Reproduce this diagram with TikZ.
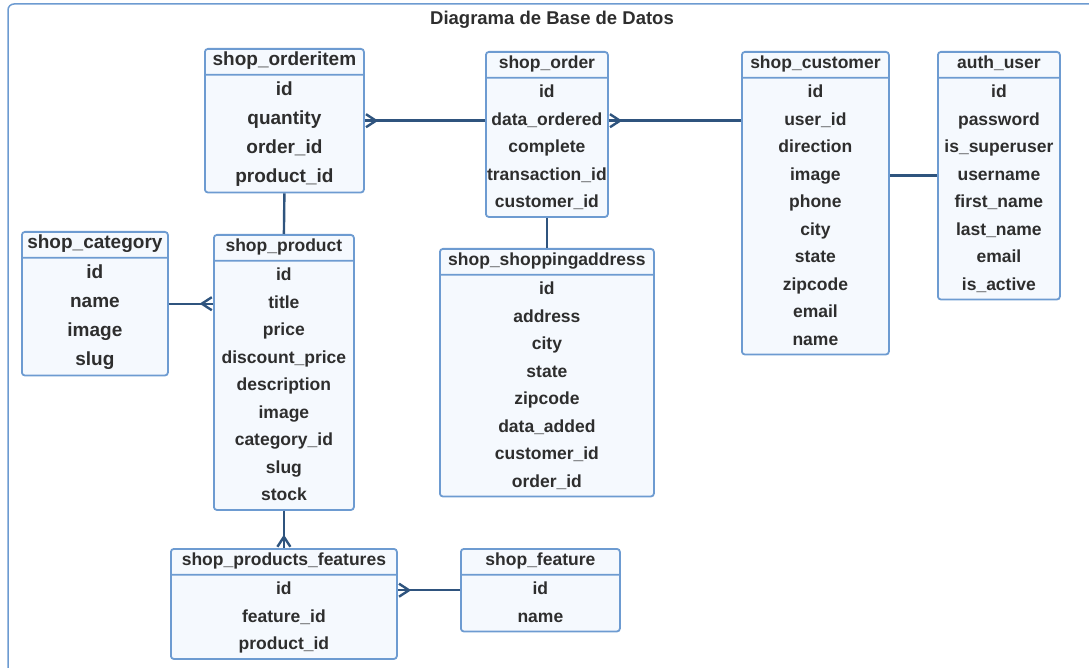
\documentclass[tikz,border=0pt]{standalone}
\usepackage{fontspec}
\setmainfont{Liberation Sans}
\usetikzlibrary{arrows.meta,positioning,shapes.multipart}
\definecolor{entline}{HTML}{6D9BD1}
\definecolor{entfill}{HTML}{F5F9FE}
\definecolor{relline}{HTML}{2F547E}
\definecolor{enttext}{HTML}{2E2E2E}
\newcommand{\hstrut}{\rule[-8.25pt]{0pt}{24pt}}
\newcommand{\ent}[2]{\hstrut#1\nodepart{two}\strut#2\strut}
\tikzset{entity/.style={rectangle split, rectangle split parts=2,
           draw=entline, fill=entfill, line width=1.8pt, rounded corners=3pt,
           anchor=north west, inner xsep=0pt, inner ysep=0pt, align=center,
           text=enttext, font=\fontsize{17.5}{27.5}\selectfont\bfseries},
         loose/.style={font=\fontsize{19}{29}\selectfont\bfseries},
         rel/.style={draw=relline, line width=2.4pt},
         crow/.style={rel, -{Straight Barb[reversed,length=10pt,width=13pt]},
           postaction={draw=relline, line width=2.4pt, -}}}

\begin{document}
\begin{tikzpicture}[x=1pt,y=-1pt]
  \useasboundingbox (0,0) rectangle (1089,668);
  \draw[entline, line width=1.5pt, rounded corners=6pt] (8,700) -- (8,4) -- (1120,4);
  \node[text=enttext, font=\fontsize{18.5}{22}\selectfont\bfseries] (title) at (552,20)
    {Diagrama de Base de Datos};

  \node[entity, loose, text width=159pt] (orderitem) at (204,48)
    {\ent{shop\_orderitem}{id\\ quantity\\ order\_id\\ product\_id}};
  \node[entity, text width=122pt] (order) at (485,51)
    {\ent{shop\_order}{id\\ data\_ordered\\ complete\\ transaction\_id\\ customer\_id}};
  \node[entity, text width=147pt] (customer) at (741,51)
    {\ent{shop\_customer}{id\\ user\_id\\ direction\\ image\\ phone\\ city\\ state\\ zipcode\\ email\\ name}};
  \node[entity, text width=122pt] (user) at (937,51)
    {\ent{auth\_user}{id\\ password\\ is\_superuser\\ username\\ first\_name\\ last\_name\\ email\\ is\_active}};
  \node[entity, loose, text width=146pt] (category) at (21,231)
    {\ent{shop\_category}{id\\ name\\ image\\ slug}};
  \node[entity, text width=140pt] (product) at (213,234)
    {\ent{shop\_product}{id\\ title\\ price\\ discount\_price\\ description\\ image\\ category\_id\\ slug\\ stock}};
  \node[entity, text width=214pt] (address) at (439,248)
    {\ent{shop\_shoppingaddress}{id\\ address\\ city\\ state\\ zipcode\\ data\_added\\ customer\_id\\ order\_id}};
  \node[entity, text width=226pt] (prodfeat) at (170,548)
    {\ent{shop\_products\_features}{id\\ feature\_id\\ product\_id}};
  \node[entity, text width=159pt] (feature) at (460,548)
    {\ent{shop\_feature}{id\\ name}};

  \draw[crow] (orderitem.east -| order.west) -- (orderitem.east);
  \draw[crow] (orderitem.east -| customer.west) -- (orderitem.east -| order.east);
  \draw[rel] (user.west) -- (user.west -| customer.east);
  \draw[rel] (orderitem.south) -- (product.north);
  \draw[rel] (order.south) -- (address.north);
  \draw[crow] (category.east) -- (category.east -| product.west);
  \draw[crow] (product.south) -- (prodfeat.north);
  \draw[crow] (feature.west) -- (feature.west -| prodfeat.east);
\end{tikzpicture}
\end{document}
